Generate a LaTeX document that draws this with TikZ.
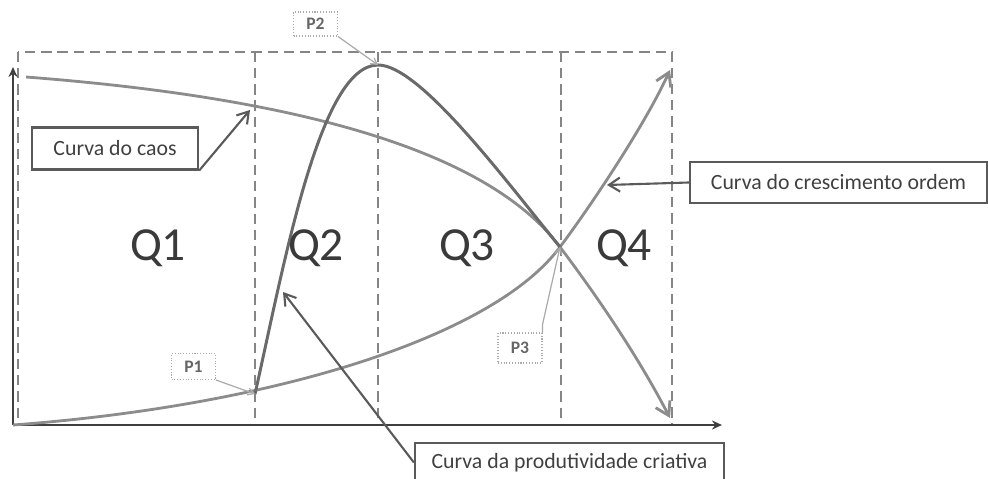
\documentclass[tikz,border=0pt]{standalone}
\usepackage{fontspec}
\setmainfont{Carlito}
\usepackage{tikz}
\usetikzlibrary{arrows.meta, positioning}
\usepackage{xcolor}
\definecolor{curvegray}{HTML}{8C8C8C}
\definecolor{proddark}{HTML}{6A6A6A}
\definecolor{axisgray}{HTML}{3F3F3F}
\definecolor{gridgray}{HTML}{858585}
\definecolor{boxgray}{HTML}{5A5A5A}
\definecolor{textgray}{HTML}{404040}
\definecolor{callgray}{HTML}{ABABAB}

\begin{document}
\begin{tikzpicture}[
    x=0.02cm, y=-0.02cm,
    every node/.style={font=\fontsize{12.4}{14}\selectfont, text=textgray},
    % Box styles
    labelbox/.style={
      rectangle, draw=boxgray, line width=1.3pt,
      minimum height=0.84cm, inner sep=2pt
    },
    pbox/.style={
      rectangle, draw=callgray, line width=0.6pt, densely dotted,
      minimum width=0.88cm, minimum height=0.52cm,
      font=\fontsize{10}{11}\selectfont\bfseries, text=gray!80!black
    },
    quadlabel/.style={
      font=\fontsize{27}{30}\selectfont, text=textgray!90!black
    },
    % Line styles
    gridline/.style={draw=gridgray, line width=1.3pt,
      dash pattern=on 5.8pt off 3.4pt},
    axis/.style={-{Stealth[length=2mm, width=1.8mm]}, draw=axisgray, line width=1.6pt},
    curve/.style={-{Straight Barb[length=2.6mm, width=3.2mm]}, draw=curvegray, line width=1.6pt},
    prodcurve/.style={draw=proddark, line width=1.7pt},
    % Arrow styles
    callarr/.style={-{Straight Barb[length=2.2mm, width=2.8mm]}, draw=boxgray, line width=1.2pt},
    parr/.style={-{Straight Barb[length=1.2mm, width=1.4mm]}, draw=callgray, line width=0.7pt}
  ]
  \useasboundingbox (0,0) rectangle (988,479);

  % ============ Quadrant grid ============
  \draw[gridline] (18,52) rectangle (672,425);
  \foreach \qx in {255, 378, 561}
    \draw[gridline] (\qx,52) -- (\qx,425);

  % ============ Axes ============
  \coordinate (origin) at (13,425);
  \coordinate (ytop) at (13,67);
  \coordinate (xend) at (722,425);
  \draw[axis] (origin) -- (ytop);
  \draw[axis] (origin) -- (xend);

  % ============ Key points ============
  \coordinate (p1pt) at (255,394);
  \coordinate (p2pt) at (378,65);
  \coordinate (p3pt) at (560,247);

  % ============ Curves ============
  % chaos
  \draw[curve] (26,77) .. controls (260,95) and (480,140) .. (p3pt)
    .. controls (600,300) and (640,360) .. (670,418);
  % growth / order
  \draw[curve] (origin) .. controls (280,405) and (495,335) .. (p3pt)
    .. controls (590,207) and (645,125) .. (670,70);
  % creative productivity
  \draw[prodcurve] (p1pt) .. controls (285,260) and (320,65) .. (p2pt)
    .. controls (420,65) and (505,180) .. (p3pt);

  % ============ Quadrant labels ============
  \node[quadlabel] (q1) at (158,248) {Q1};
  \node[quadlabel] (q2) at (316,248) {Q2};
  \node[quadlabel] (q3) at (467,248) {Q3};
  \node[quadlabel] (q4) at (624,248) {Q4};

  % ============ Curve labels ============
  \node[labelbox, minimum width=3.32cm] (caos) at (115,148.5) {Curva do caos};
  \node[labelbox, minimum width=5.94cm, minimum height=0.82cm] (ordem) at (838.5,182.5)
    {Curva do crescimento ordem};
  \node[labelbox, minimum width=6.18cm, minimum height=0.78cm] (prod) at (569.5,462.5)
    {Curva da produtividade criativa};

  \coordinate (caosmark) at (250,110);
  \coordinate (ordemmark) at (607,185);
  \coordinate (prodmark) at (283,292);
  \draw[callarr] (caos.south east) -- (caosmark);
  \draw[callarr] (ordem.west) -- (ordemmark);
  \draw[callarr] (prod.west) -- (prodmark);

  % ============ Point callouts ============
  \node[pbox] (p1) at (193.5,366.5) {P1};
  \node[pbox, minimum height=0.48cm] (p2) at (315.5,24) {P2};
  \node[pbox, minimum height=0.6cm] (p3) at (520,348) {P3};
  \draw[parr] (p1.south east) -- (p1pt);
  \draw[parr] (p2.south east) -- (p2pt);
  \draw[parr] (p3.north east) -- ++(0,-8) -- (p3pt);

\end{tikzpicture}
\end{document}
